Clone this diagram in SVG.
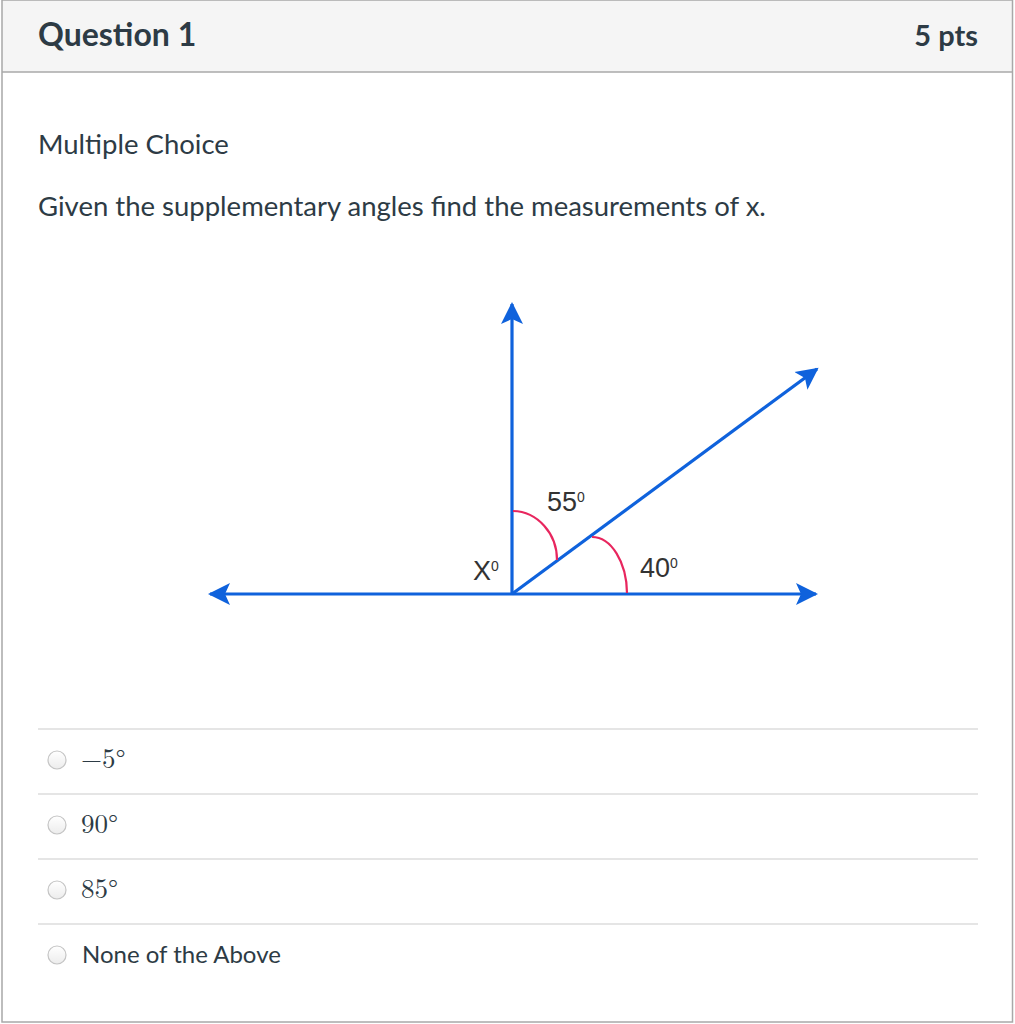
<svg xmlns="http://www.w3.org/2000/svg" width="1015" height="1024" viewBox="0 0 1015 1024">
<defs>
<style>
.t{font-family:Lato,"Open Sans","Liberation Sans",sans-serif;fill:#2d3b45}
.lab{font-family:"Liberation Sans",Carlito,sans-serif;fill:#333;font-size:27px}
.sup{font-size:14px}
.ray{stroke:#0f62dc;stroke-width:3.2;fill:none}
.arc{stroke:#e8265e;stroke-width:2.2;fill:none}
.sep{stroke:#dcdcdc;stroke-width:1.5}
.radio{fill:url(#rg);stroke:#c4c4c4;stroke-width:1.2}
.m{font-family:"Latin Modern Math","DejaVu Serif","Liberation Serif",serif;font-size:27px;fill:#2d3b45}
</style>
<linearGradient id="rg" x1="0" y1="0" x2="0" y2="1"><stop offset="0" stop-color="#ffffff"/><stop offset="1" stop-color="#ececec"/></linearGradient>
<marker id="ah" markerUnits="userSpaceOnUse" markerWidth="24" markerHeight="24" viewBox="0 0 24 24" refX="20" refY="12" orient="auto">
<path d="M0,1 L22,12 L0,23 L5,12 Z" fill="#0f62dc"/>
</marker>
</defs>
<rect x="0" y="0" width="1015" height="1024" fill="#ffffff"/>
<rect x="2" y="0" width="1010.5" height="72" fill="#f5f5f5"/>
<rect x="2" y="0" width="1010.5" height="1022" fill="none" stroke="#a8a8a8" stroke-width="1.5"/>
<line x1="2" y1="72" x2="1013" y2="72" stroke="#a8a8a8" stroke-width="1.5"/>
<g id="header">
<text class="t" x="38" y="46" font-size="32" font-weight="700">Question 1</text>
<text class="t" x="978" y="46" font-size="29" font-weight="700" text-anchor="end">5 pts</text>
</g>
<g id="body">
<text class="t" x="38" y="154" font-size="27.5">Multiple Choice</text>
<text class="t" x="38" y="216" font-size="27.5">Given the supplementary angles find the measurements of x.</text>
</g>
<g id="connectors">
<line class="ray" x1="512" y1="594" x2="512" y2="304" marker-end="url(#ah)"/>
<line class="ray" x1="512" y1="594" x2="816" y2="594" marker-end="url(#ah)"/>
<line class="ray" x1="512" y1="594" x2="210" y2="594" marker-end="url(#ah)"/>
<line class="ray" x1="512" y1="594" x2="817" y2="369" marker-end="url(#ah)"/>
<path class="arc" d="M513,511 A45,49 0 0 1 557,560"/>
<path class="arc" d="M592,537 A35,57 0 0 1 627,593"/>
</g>
<g id="labels">
<text class="lab" x="547" y="511">55<tspan class="sup" dy="-9">0</tspan></text>
<text class="lab" x="640" y="577">40<tspan class="sup" dy="-9">0</tspan></text>
<text class="lab" x="473" y="580">X<tspan class="sup" dy="-9">0</tspan></text>
</g>
<g id="options">
<line class="sep" x1="38" y1="729" x2="978" y2="729"/>
<line class="sep" x1="38" y1="794" x2="978" y2="794"/>
<line class="sep" x1="38" y1="859" x2="978" y2="859"/>
<line class="sep" x1="38" y1="924" x2="978" y2="924"/>
<g id="opt1"><circle class="radio" cx="57" cy="760" r="9"/><text class="m" x="81" y="768">−5°</text></g>
<g id="opt2"><circle class="radio" cx="57" cy="825" r="9"/><text class="m" x="81" y="833">90°</text></g>
<g id="opt3"><circle class="radio" cx="57" cy="890" r="9"/><text class="m" x="81" y="898">85°</text></g>
<g id="opt4"><circle class="radio" cx="57" cy="955" r="9"/><text class="t" x="82" y="963" font-size="24">None of the Above</text></g>
</g>
</svg>
